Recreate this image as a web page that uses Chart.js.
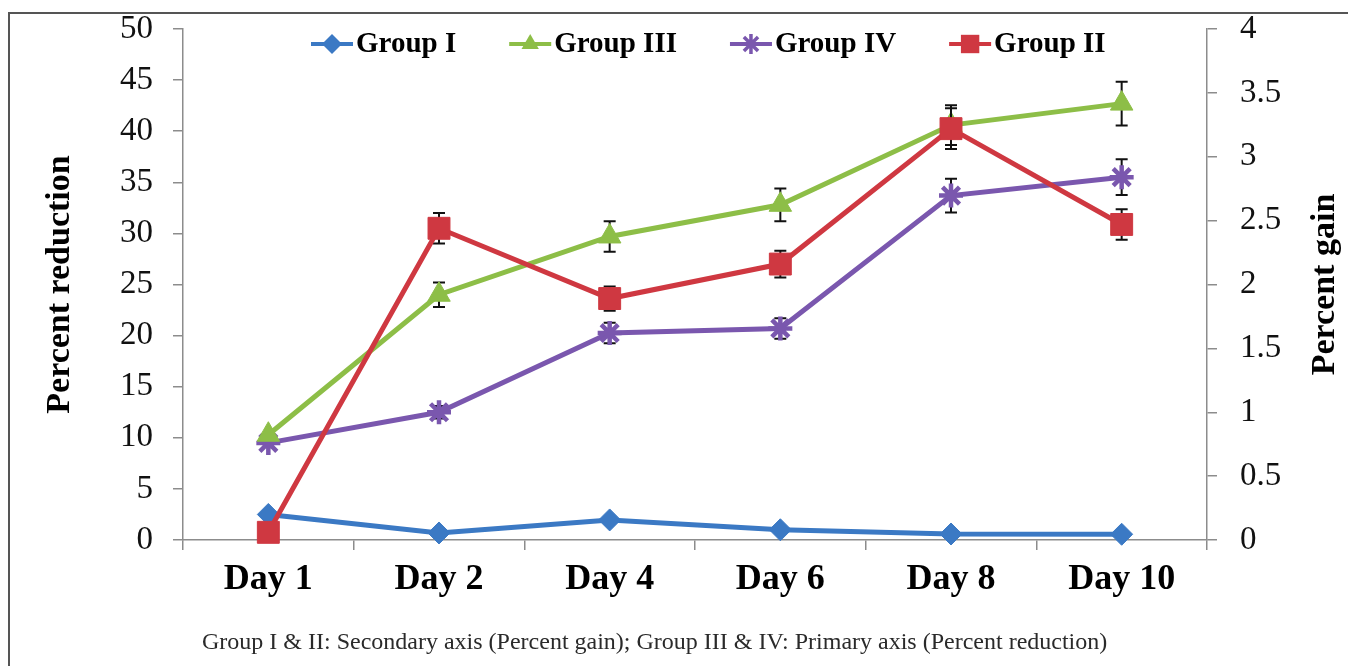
<!DOCTYPE html>
<html>
<head>
<meta charset="utf-8">
<script src="https://cdn.jsdelivr.net/npm/chart.js@4.4.1/dist/chart.umd.min.js"></script>
<style>
  html, body { margin: 0; padding: 0; background: #fff; }
  #wrap { position: relative; width: 1348px; height: 666px; overflow: hidden; }
  #frame {
    position: absolute; left: 8px; top: 12px; width: 1340px; height: 660px;
    border-top: 2px solid #555; border-left: 2px solid #555;
  }
  #plot { position: absolute; left: 0; top: 0; }
  #caption {
    position: absolute; left: 202px; top: 629px;
    font-family: "Liberation Serif", "Times New Roman", serif;
    font-size: 24px; line-height: 1; color: #2a2a2a; white-space: nowrap;
  }
</style>
</head>
<body>
<div id="wrap">
  <div id="frame"></div>
  <canvas id="plot" width="1348" height="666"></canvas>
  <div id="caption">Group I &amp; II: Secondary axis (Percent gain); Group III &amp; IV: Primary axis (Percent reduction)</div>
</div>
<script>
const days = ["Day 1", "Day 2", "Day 4", "Day 6", "Day 8", "Day 10"];

// secondary axis (percent gain)
const group1 = [0.20, 0.055, 0.157, 0.08, 0.047, 0.045];
const group2 = [0.06, 2.44, 1.89, 2.16, 3.22, 2.47];
const group1Err = [0, 0, 0, 0, 0, 0];
const group2Err = [0, 0.12, 0.095, 0.105, 0.16, 0.12];

// primary axis (percent reduction)
const group3 = [10.3, 24.0, 29.7, 32.8, 40.6, 42.7];
const group4 = [9.5, 12.5, 20.25, 20.7, 33.7, 35.5];
const group3Err = [0, 1.2, 1.5, 1.6, 1.95, 2.15];
const group4Err = [0, 0.6, 1.0, 1.0, 1.65, 1.75];

const leftTicks = [0, 5, 10, 15, 20, 25, 30, 35, 40, 45, 50];
const rightTicks = [0, 0.5, 1, 1.5, 2, 2.5, 3, 3.5, 4];

const SERIF = "'Liberation Serif', 'Times New Roman', serif";
const AXIS_GREY = "#8c8c8c";

const BLUE = "#3B79C4";
const RED = "#CF3841";
const GREEN = "#8DBE47";
const PURPLE = "#7A57AE";

function series(label, data, err, color, style, radius, axis, order) {
    return {
        label: label,
        data: data,
        errors: err,
        yAxisID: axis,
        order: order,
        borderColor: color,
        backgroundColor: color,
        borderWidth: 5,
        pointStyle: style,
        pointRadius: radius,
        pointBackgroundColor: color,
        pointBorderColor: color,
        pointBorderWidth: style === "star" ? 4.5 : 1,
        tension: 0,
        clip: false,
    };
}

// fixed widths for the side axes; drop the extra room reserved for end labels
function sideAxisFit(width) {
    return s => {
        s.width = width;
        s.paddingTop = 0;
        s.paddingBottom = 0;
    };
}

// black error bars, painted just before each series so its own markers sit on top
const errorBars = {
    id: "errorBars",
    beforeDatasetDraw(chart, args) {
        const ds = chart.data.datasets[args.index];
        if (!ds.errors) return;
        const scale = chart.scales[ds.yAxisID];
        const ctx = chart.ctx;
        ctx.save();
        ctx.strokeStyle = "#111";
        ctx.lineWidth = 2;
        args.meta.data.forEach((pt, i) => {
            const e = ds.errors[i];
            if (!e) return;
            const top = scale.getPixelForValue(ds.data[i] + e);
            const bot = scale.getPixelForValue(ds.data[i] - e);
            ctx.beginPath();
            ctx.moveTo(pt.x, top);
            ctx.lineTo(pt.x, bot);
            ctx.moveTo(pt.x - 6, top);
            ctx.lineTo(pt.x + 6, top);
            ctx.moveTo(pt.x - 6, bot);
            ctx.lineTo(pt.x + 6, bot);
            ctx.stroke();
        });
        ctx.restore();
    }
};

function drawMarker(ctx, style, x, y, r, color) {
    ctx.save();
    ctx.fillStyle = color;
    ctx.strokeStyle = color;
    ctx.beginPath();
    if (style === "rectRot") {
        ctx.moveTo(x - r, y); ctx.lineTo(x, y - r); ctx.lineTo(x + r, y); ctx.lineTo(x, y + r);
        ctx.closePath(); ctx.fill();
    } else if (style === "rect") {
        const s = r * Math.SQRT1_2;
        ctx.rect(x - s, y - s, 2 * s, 2 * s); ctx.fill();
    } else if (style === "triangle") {
        for (let k = 0; k < 3; k++) {
            const a = k * 2 * Math.PI / 3;
            const px = x + Math.sin(a) * r, py = y - Math.cos(a) * r;
            if (k === 0) ctx.moveTo(px, py); else ctx.lineTo(px, py);
        }
        ctx.closePath(); ctx.fill();
    } else {
        ctx.lineWidth = 3.5;
        const d = r * Math.SQRT1_2;
        ctx.moveTo(x - d, y - d); ctx.lineTo(x + d, y + d);
        ctx.moveTo(x + d, y - d); ctx.lineTo(x - d, y + d);
        ctx.moveTo(x, y - r); ctx.lineTo(x, y + r);
        ctx.stroke();
    }
    ctx.restore();
}

// legend row sits inside the plot, across the top
const insideLegend = {
    id: "insideLegend",
    afterDraw(chart) {
        const ctx = chart.ctx;
        const y = 44;
        let x = 311;
        ctx.save();
        ctx.font = "bold 29px " + SERIF;
        ctx.textBaseline = "middle";
        chart.data.datasets.forEach(ds => {
            ctx.strokeStyle = ds.borderColor;
            ctx.lineWidth = 4;
            ctx.beginPath();
            ctx.moveTo(x, y);
            ctx.lineTo(x + 42, y);
            ctx.stroke();
            drawMarker(ctx, ds.pointStyle, x + 21, y, ds.pointStyle === "rect" ? 13 : 10, ds.borderColor);
            ctx.fillStyle = "#000";
            ctx.fillText(ds.label, x + 45, y + 1);
            x += 45 + ctx.measureText(ds.label).width + 53;
        });
        ctx.restore();
    }
};

// right-hand title reads bottom-to-top like the left one
const rightTitle = {
    id: "rightTitle",
    afterDraw(chart) {
        const ctx = chart.ctx;
        const area = chart.chartArea;
        ctx.save();
        ctx.translate(1325, (area.top + area.bottom) / 2);
        ctx.rotate(-Math.PI / 2);
        ctx.font = "bold 34px " + SERIF;
        ctx.fillStyle = "#000";
        ctx.textAlign = "center";
        ctx.textBaseline = "middle";
        ctx.fillText("Percent gain", 0, 0);
        ctx.restore();
    }
};

new Chart(document.getElementById("plot"), {
    type: "line",
    data: {
        labels: days,
        datasets: [
            series("Group I", group1, group1Err, BLUE, "rectRot", 11, "y1", 1),
            series("Group III", group3, group3Err, GREEN, "triangle", 13, "y", 2),
            series("Group IV", group4, group4Err, PURPLE, "star", 12, "y", 3),
            series("Group II", group2, group2Err, RED, "rect", 15.5, "y1", 0),
        ]
    },
    options: {
        responsive: false,
        animation: false,
        layout: { padding: { top: 29, left: 0, right: 0, bottom: 0 } },
        plugins: { legend: { display: false }, tooltip: { enabled: false } },
        scales: {
            x: {
                offset: true,
                grid: { offset: true, drawOnChartArea: false, tickLength: 10, color: AXIS_GREY, lineWidth: 1.5 },
                border: { color: AXIS_GREY, width: 1.5 },
                ticks: { color: "#000", padding: 8, font: { family: SERIF, size: 36, weight: "bold" } },
                afterFit: s => { s.height = 126; },
            },
            y: {
                position: "left",
                min: 0,
                max: 50,
                afterBuildTicks: s => { s.ticks = leftTicks.map(v => ({ value: v })); },
                grid: { drawOnChartArea: false, tickLength: 10, color: AXIS_GREY, lineWidth: 1.5 },
                border: { color: AXIS_GREY, width: 1.5 },
                ticks: { color: "#111", padding: 20, font: { family: SERIF, size: 33 } },
                title: {
                    display: true,
                    text: "Percent reduction",
                    color: "#000",
                    padding: { top: 40, bottom: 0 },
                    font: { family: SERIF, size: 34, weight: "bold" },
                },
                afterFit: sideAxisFit(183),
            },
            y1: {
                position: "right",
                min: 0,
                max: 4,
                afterBuildTicks: s => { s.ticks = rightTicks.map(v => ({ value: v })); },
                grid: { drawOnChartArea: false, tickLength: 10, color: AXIS_GREY, lineWidth: 1.5 },
                border: { color: AXIS_GREY, width: 1.5 },
                ticks: {
                    color: "#111",
                    padding: 23,
                    font: { family: SERIF, size: 33 },
                    callback: v => String(v),
                },
                afterFit: sideAxisFit(141),
            },
        },
    },
    plugins: [errorBars, insideLegend, rightTitle],
});
</script>
</body>
</html>
